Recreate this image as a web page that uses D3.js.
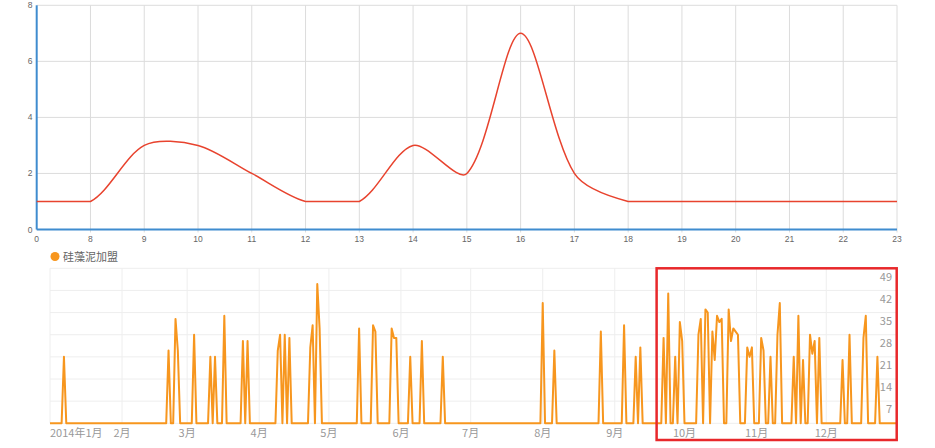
<!DOCTYPE html>
<html><head><meta charset="utf-8">
<script src="https://cdn.jsdelivr.net/npm/d3@7/dist/d3.min.js"></script>
<style>
html,body{margin:0;padding:0;background:#fff;}
svg{display:block;}
</style></head>
<body>
<svg id="chart" width="935" height="448"></svg>
<script>
// ---------- Top chart data ----------
const topCategories = ['0','8','9','10','11','12','13','14','15','16','17','18','19','20','21','22','23'];
const topValues     = [1, 1, 3, 3, 2, 1, 1, 3, 2, 7, 2, 1, 1, 1, 1, 1, 1];
const topYTicks     = [0, 2, 4, 6, 8];

// ---------- Bottom chart data (daily, 2014) ----------
const seriesName = '硅藻泥加盟';
const jan = [0,0,0,0,0,0,21,0,0,0, 0,0,0,0,0,0,0,0,0,0, 0,0,0,0,0,0,0,0,0,0, 0];
const feb = [0,0,0,0,0,0,0,0,0,0, 0,0,0,0,0,0,0,0,0,0, 23,0,0,33,23,0,0,0];
const mar = [0,0,0,28,0,0,0,0,0,0, 21,0,21,0,0,0,34,0,0,0, 0,0,0,0,26,0,26,0,0,0, 0];
const apr = [0,0,0,0,0,0,0,0,23,28, 0,28,0,27,0,0,0,0,0,0, 0,0,24,31,0,44,30,0,0,0];
const may = [0,0,0,0,0,0,0,0,0,0, 0,0,0,30,0,0,0,0,0,31, 29,0,0,0,0,0,0,30,27,27, 0];
const jun = [0,0,0,0,21,0,0,0,0,26, 0,0,0,0,0,0,0,0,21,0, 0,0,0,0,0,0,0,0,0,0];
const jul = [0,0,0,0,0,0,0,0,0,0, 0,0,0,0,0,0,0,0,0,0, 0,0,0,0,0,0,0,0,0,0, 0];
const aug = [38,0,0,0,0,23,0,0,0,0, 0,0,0,0,0,0,0,0,0,0, 0,0,0,0,0,29,0,0,0,0, 0];
const sep = [0,0,0,0,31,0,0,0,0,21, 0,24,0,0,0,0,0,0,0,0, 0,27,0,41,0,0,21,0,32,26];
const oct = [0,0,0,0,0,0,28,33,0,36, 35,0,29,20,34,32,33,0,0,36, 26,30,29,28,0,0,0,24,21,24, 0];
const nov = [0,0,27,23,0,0,21,0,0,28, 38,0,0,0,0,0,21,0,34,0, 20,0,0,28,22,26,0,27,0,0];
const dec = [0,0,0,0,0,0,0,20,0,0, 28,0,0,0,0,0,27,34,0,0, 0,0,21,0,0,0,0,0,0,0, 0];
const monthlyValues = [jan,feb,mar,apr,may,jun,jul,aug,sep,oct,nov,dec];
const monthLabels = ['2014年1月','2月','3月','4月','5月','6月','7月','8月','9月','10月','11月','12月'];
const bottomYTicks = [7,14,21,28,35,42,49];
const highlightStart = '2014-09-19';
const highlightEnd = '2014-12-31';

// ---------- build ----------
const svg = d3.select('#chart');

// ===== Top chart =====
const tx = d3.scalePoint().domain(topCategories).range([36.7, 897]);
const ty = d3.scaleLinear().domain([0, 8]).range([229.5, 5.3]);
const gTop = svg.append('g');
const gridCol = '#dcdcdc';

gTop.selectAll('line.hg').data(topYTicks).join('line')
  .attr('x1', 36.7).attr('x2', 897).attr('y1', d => ty(d)).attr('y2', d => ty(d))
  .attr('stroke', gridCol).attr('stroke-width', 1);
gTop.selectAll('line.vg').data(topCategories.slice(1)).join('line')
  .attr('x1', d => tx(d)).attr('x2', d => tx(d)).attr('y1', ty(8)).attr('y2', ty(0) + 3)
  .attr('stroke', gridCol).attr('stroke-width', 1);

gTop.append('line').attr('x1', tx(topCategories[0])).attr('x2', 897).attr('y1', ty(0)).attr('y2', ty(0))
  .attr('stroke', '#3f8ccf').attr('stroke-width', 2);
gTop.append('line').attr('x1', tx(topCategories[0])).attr('x2', tx(topCategories[0])).attr('y1', ty(8)).attr('y2', ty(0))
  .attr('stroke', '#3f8ccf').attr('stroke-width', 2);

gTop.selectAll('text.xl').data(topCategories).join('text')
  .attr('x', d => tx(d)).attr('y', 241.5).attr('text-anchor', 'middle')
  .attr('font-family', 'Liberation Sans, Arial, sans-serif').attr('font-size', 8.5).attr('fill', '#666')
  .text(d => d);
gTop.selectAll('text.yl').data(topYTicks).join('text')
  .attr('x', 32.5).attr('y', d => ty(d) + 3).attr('text-anchor', 'end')
  .attr('font-family', 'Liberation Sans, Arial, sans-serif').attr('font-size', 8.5).attr('fill', '#666')
  .text(d => d);

function smoothPath(pts, smooth) {
  const p = d3.path();
  const minX = d3.min(pts, d => d[0]), maxX = d3.max(pts, d => d[0]);
  const minY = d3.min(pts, d => d[1]), maxY = d3.max(pts, d => d[1]);
  const clamp = c => [Math.min(Math.max(c[0], minX), maxX), Math.min(Math.max(c[1], minY), maxY)];
  let cp0 = pts[0].slice();
  p.moveTo(pts[0][0], pts[0][1]);
  for (let i = 1; i < pts.length; i++) {
    const cur = pts[i], prev = pts[i - 1], next = pts[i + 1];
    let cp1, v = [0, 0], r = 0.5;
    if (!next) cp1 = cur.slice();
    else {
      v = [next[0] - prev[0], next[1] - prev[1]];
      const lp = Math.hypot(cur[0] - prev[0], cur[1] - prev[1]);
      const ln = Math.hypot(cur[0] - next[0], cur[1] - next[1]);
      r = ln / (ln + lp);
      cp1 = [cur[0] - v[0] * smooth * (1 - r), cur[1] - v[1] * smooth * (1 - r)];
    }
    const a = clamp(cp0), b = clamp(cp1);
    p.bezierCurveTo(a[0], a[1], b[0], b[1], cur[0], cur[1]);
    cp0 = [cur[0] + v[0] * smooth * r, cur[1] + v[1] * smooth * r];
  }
  return p.toString();
}
const topPts = topCategories.map((c, i) => [tx(c), ty(topValues[i])]);
gTop.append('path').attr('d', smoothPath(topPts, 0.3))
  .attr('fill', 'none').attr('stroke', '#e8432e').attr('stroke-width', 1.5);

// ===== Bottom chart =====
const parseDate = d3.timeParse('%Y-%m-%d');
const daily = [];
monthlyValues.forEach((arr, m) => arr.forEach((v, d) => daily.push({date: new Date(2014, m, d + 1), value: v})));
const bx = d3.scaleTime().domain([new Date(2014, 0, 1), new Date(2014, 11, 31)]).range([50, 896]);
const by = d3.scaleLinear().domain([0, 49]).range([423.3, 268.3]);
const gBot = svg.append('g');
const lightGrid = '#eeeeee';

gBot.selectAll('line.bh').data([0].concat(bottomYTicks)).join('line')
  .attr('x1', 50).attr('x2', 896).attr('y1', d => by(d)).attr('y2', d => by(d))
  .attr('stroke', lightGrid).attr('stroke-width', 1);
const monthStarts = d3.range(12).map(m => new Date(2014, m, 1));
gBot.selectAll('line.bv').data(monthStarts).join('line')
  .attr('x1', d => bx(d)).attr('x2', d => bx(d)).attr('y1', by(49)).attr('y2', by(0))
  .attr('stroke', lightGrid).attr('stroke-width', 1);

gBot.selectAll('text.ml').data(monthStarts).join('text')
  .attr('x', d => bx(d))
  .attr('y', 436.5)
  .attr('text-anchor', (d, i) => i === 0 ? 'start' : 'middle')
  .attr('font-family', '"Noto Sans CJK SC", sans-serif').attr('font-size', 11).attr('fill', '#999')
  .text((d, i) => monthLabels[i]);

gBot.selectAll('text.yr').data(bottomYTicks).join('text')
  .attr('x', 892).attr('y', d => by(d) + 12.3).attr('text-anchor', 'end')
  .attr('font-family', '"Noto Sans CJK SC", sans-serif').attr('font-size', 11).attr('fill', '#999')
  .text(d => d);

const line = d3.line().x(d => bx(d.date)).y(d => by(d.value));
gBot.append('path').datum(daily).attr('d', line)
  .attr('fill', 'none').attr('stroke', '#f7961e').attr('stroke-width', 2).attr('stroke-linejoin', 'round');

gBot.append('circle').attr('cx', 55).attr('cy', 256.5).attr('r', 4.5).attr('fill', '#f7961e');
gBot.append('text').attr('x', 63).attr('y', 260.5)
  .attr('font-family', '"Noto Sans CJK SC", sans-serif').attr('font-size', 11).attr('fill', '#666')
  .text(seriesName);

const hx0 = bx(parseDate(highlightStart)), hx1 = bx(parseDate(highlightEnd)) + 0.7;
gBot.append('rect').attr('x', hx0).attr('y', by(49)).attr('width', hx1 - hx0).attr('height', 440 - by(49))
  .attr('fill', 'none').attr('stroke', '#e8282b').attr('stroke-width', 2.5);
</script>
</body></html>
